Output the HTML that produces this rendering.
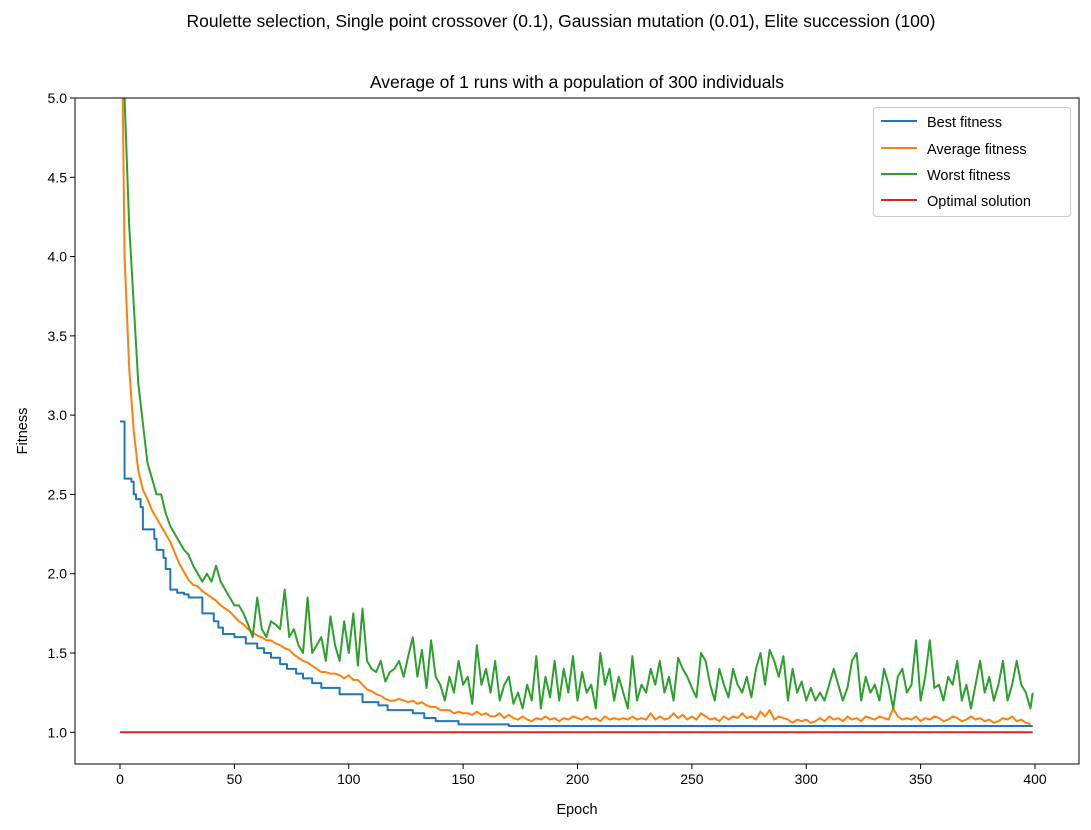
<!DOCTYPE html>
<html><head><meta charset="utf-8"><style>
body{margin:0;background:#fff;}
svg{display:block;font-family:"Liberation Sans","DejaVu Sans",sans-serif;}
</style></head><body>
<svg id="chart" width="1091" height="830" viewBox="0 0 1091 830">
<text x="561" y="27" font-size="17.5" text-anchor="middle">Roulette selection, Single point crossover (0.1), Gaussian mutation (0.01), Elite succession (100)</text>
<text x="577" y="88" font-size="17.5" text-anchor="middle">Average of 1 runs with a population of 300 individuals</text>
<defs><clipPath id="clip"><rect x="75" y="98" width="1004" height="666"/></clipPath></defs>
<g id="marks" clip-path="url(#clip)"></g>
<g id="axes"></g>
<rect x="75" y="98" width="1004" height="666" fill="none" stroke="#000" stroke-width="1"/>
<text x="577" y="814" font-size="14.5" text-anchor="middle">Epoch</text>
<text x="27" y="431" font-size="14.5" text-anchor="middle" transform="rotate(-90 27 431)">Fitness</text>
<g>
<rect x="873.5" y="107.5" width="197" height="109" rx="3" fill="#fff" fill-opacity="0.8" stroke="#ccc"/>
<line x1="881" y1="121" x2="917" y2="121" stroke="#1f77b4" stroke-width="2"/><text x="927" y="127" font-size="14.5">Best fitness</text>
<line x1="881" y1="148" x2="917" y2="148" stroke="#ff7f0e" stroke-width="2"/><text x="927" y="154" font-size="14.5">Average fitness</text>
<line x1="881" y1="174" x2="917" y2="174" stroke="#2ca02c" stroke-width="2"/><text x="927" y="180" font-size="14.5">Worst fitness</text>
<line x1="881" y1="200" x2="917" y2="200" stroke="#d62728" stroke-width="2"/><text x="927" y="206" font-size="14.5">Optimal solution</text>
</g>
</svg>
<script>
const xTicks=[0,50,100,150,200,250,300,350,400];
const yTicks=[1.0,1.5,2.0,2.5,3.0,3.5,4.0,4.5,5.0];
const bestEpochs=[0,2,5,6,7,9,10,15,16,19,20,22,25,28,30,36,41,43,45,50,55,60,63,66,70,73,77,80,84,88,96,106,113,117,128,133,138,148,170,399];
const bestValues=[2.96,2.6,2.58,2.5,2.47,2.42,2.28,2.22,2.15,2.1,2.03,1.9,1.88,1.87,1.85,1.75,1.7,1.66,1.62,1.6,1.56,1.53,1.5,1.47,1.43,1.4,1.37,1.34,1.31,1.28,1.24,1.19,1.17,1.14,1.12,1.09,1.07,1.05,1.04,1.04];
const sampleEpochs=[];for(let e=0;e<=398;e+=2)sampleEpochs.push(e);sampleEpochs.push(399);
const avgValues=[6.5,4.0,3.3,2.9,2.65,2.53,2.47,2.4,2.35,2.3,2.25,2.2,2.13,2.06,2.01,1.96,1.93,1.92,1.89,1.87,1.85,1.83,1.8,1.78,1.76,1.73,1.7,1.68,1.65,1.63,1.61,1.6,1.58,1.58,1.56,1.55,1.53,1.52,1.49,1.47,1.45,1.44,1.42,1.4,1.38,1.38,1.37,1.37,1.36,1.34,1.36,1.33,1.33,1.3,1.27,1.26,1.24,1.23,1.21,1.2,1.2,1.21,1.2,1.19,1.2,1.18,1.19,1.17,1.16,1.16,1.14,1.14,1.14,1.12,1.13,1.12,1.12,1.11,1.13,1.11,1.12,1.1,1.1,1.12,1.09,1.11,1.09,1.08,1.1,1.08,1.07,1.09,1.08,1.1,1.08,1.09,1.07,1.09,1.08,1.1,1.09,1.08,1.1,1.08,1.09,1.07,1.1,1.08,1.09,1.08,1.09,1.08,1.1,1.08,1.09,1.08,1.12,1.08,1.1,1.08,1.09,1.12,1.09,1.11,1.08,1.1,1.08,1.12,1.1,1.08,1.09,1.07,1.1,1.08,1.1,1.09,1.12,1.09,1.1,1.08,1.13,1.1,1.14,1.08,1.1,1.09,1.08,1.06,1.08,1.07,1.08,1.06,1.07,1.09,1.07,1.1,1.08,1.09,1.07,1.1,1.08,1.09,1.07,1.1,1.09,1.08,1.1,1.09,1.08,1.15,1.1,1.08,1.09,1.08,1.1,1.07,1.09,1.08,1.1,1.09,1.07,1.08,1.1,1.09,1.07,1.08,1.1,1.08,1.09,1.07,1.08,1.06,1.07,1.09,1.08,1.1,1.07,1.08,1.06,1.05];
const worstValues=[7.0,5.0,4.2,3.7,3.2,2.95,2.7,2.6,2.5,2.5,2.38,2.3,2.25,2.2,2.15,2.12,2.05,2.0,1.95,2.0,1.95,2.05,1.95,1.9,1.85,1.8,1.8,1.75,1.68,1.6,1.85,1.65,1.6,1.7,1.68,1.65,1.9,1.6,1.65,1.55,1.5,1.85,1.5,1.55,1.6,1.45,1.73,1.55,1.45,1.7,1.5,1.75,1.42,1.78,1.45,1.4,1.38,1.45,1.32,1.38,1.4,1.45,1.35,1.48,1.6,1.35,1.52,1.28,1.58,1.35,1.3,1.2,1.35,1.25,1.45,1.3,1.35,1.18,1.55,1.3,1.4,1.25,1.45,1.2,1.3,1.35,1.18,1.25,1.15,1.3,1.2,1.48,1.15,1.35,1.22,1.45,1.2,1.4,1.25,1.48,1.2,1.38,1.25,1.3,1.15,1.5,1.3,1.4,1.2,1.35,1.25,1.15,1.48,1.2,1.3,1.25,1.4,1.3,1.45,1.25,1.35,1.2,1.47,1.4,1.35,1.28,1.22,1.5,1.45,1.3,1.2,1.4,1.3,1.22,1.4,1.3,1.25,1.35,1.22,1.4,1.5,1.3,1.52,1.45,1.35,1.48,1.2,1.4,1.25,1.32,1.2,1.28,1.2,1.25,1.2,1.3,1.4,1.3,1.2,1.28,1.45,1.5,1.2,1.35,1.25,1.3,1.2,1.4,1.3,1.15,1.35,1.4,1.25,1.3,1.58,1.2,1.35,1.58,1.28,1.3,1.2,1.35,1.3,1.45,1.2,1.3,1.15,1.3,1.45,1.25,1.35,1.2,1.3,1.45,1.2,1.3,1.45,1.3,1.25,1.15,1.25];
const optimalValue=1.0;

const NS='http://www.w3.org/2000/svg';
const X0=75,X1=1079,Y0=764,Y1=98,XMIN=-19.67,XMAX=419.23,YMIN=0.8,YMAX=5.0;
function sx(v){return X0+(v-XMIN)/(XMAX-XMIN)*(X1-X0);}
function sy(v){return Y0-(v-YMIN)/(YMAX-YMIN)*(Y0-Y1);}
const marks=document.getElementById('marks'),axes=document.getElementById('axes');
function mk(tag,attrs,parent){const e=document.createElementNS(NS,tag);for(const k in attrs)e.setAttribute(k,attrs[k]);parent.appendChild(e);return e;}
function line(xs,ys,color,name,step){
  let d='';
  const n=Math.min(xs.length,ys.length);
  for(let i=0;i<n;i++){
    if(i===0)d+='M'+sx(xs[i])+','+sy(ys[i]);
    else if(step)d+='L'+sx(xs[i])+','+sy(ys[i-1])+'L'+sx(xs[i])+','+sy(ys[i]);
    else d+='L'+sx(xs[i])+','+sy(ys[i]);
  }
  const p=mk('path',{d:d,fill:'none',stroke:color,'stroke-width':2,'stroke-linejoin':'round'},marks);
  
  
}
line(bestEpochs,bestValues,'#1f77b4','best-fitness-line',true);
line(sampleEpochs,avgValues,'#ff7f0e','average-fitness-line',false);
line(sampleEpochs,worstValues,'#2ca02c','worst-fitness-line',false);
line([0,399],[optimalValue,optimalValue],'#d62728','optimal-solution-line',false);
xTicks.forEach(t=>{
  mk('line',{x1:sx(t),x2:sx(t),y1:Y0,y2:Y0+5,stroke:'#000'},axes);
  const tx=mk('text',{x:sx(t),y:Y0+20,'font-size':14,'text-anchor':'middle'},axes);
  tx.textContent=t;
  
  
});
yTicks.forEach(t=>{
  mk('line',{x1:X0-5,x2:X0,y1:sy(t),y2:sy(t),stroke:'#000'},axes);
  const tx=mk('text',{x:X0-8,y:sy(t)+5,'font-size':14,'text-anchor':'end'},axes);
  tx.textContent=t.toFixed(1);
  
  
});
</script>
</body></html>
